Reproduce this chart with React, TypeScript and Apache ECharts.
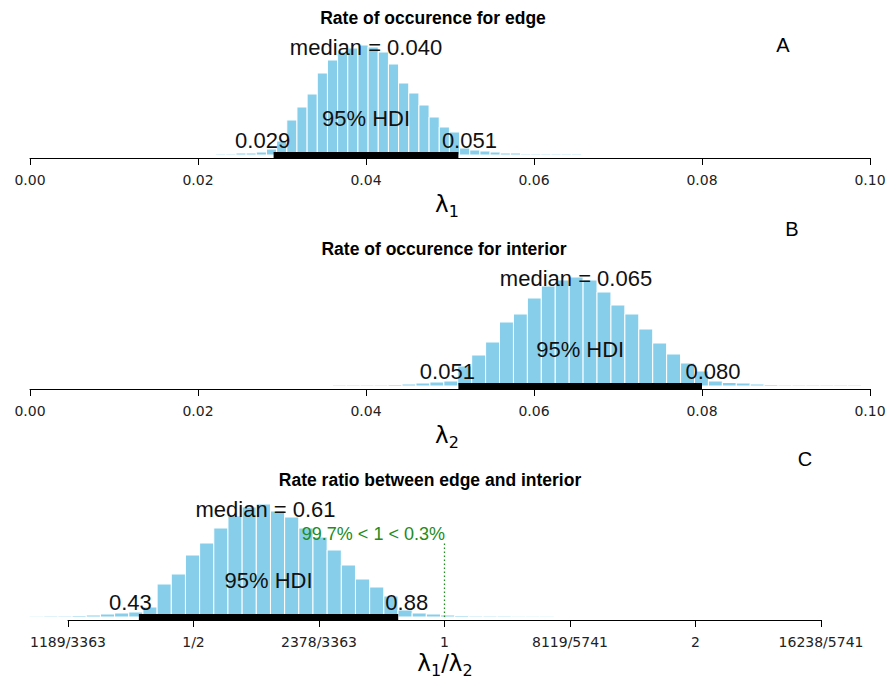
import React, { useEffect, useRef } from "react";
import * as echarts from "echarts";

// Posterior of the edge rate (λ1): histogram bins and summary
const edgeBinStart = 0.0221;
const edgeBinWidth = 0.00121;
const edgeCounts = [
  1, 1, 2, 2, 3, 6, 14,
  35, 48, 61, 82, 95, 103, 107, 110, 108, 103, 91, 72, 62, 50, 38, 28, 23,
  7, 5, 4, 3, 2, 2, 1, 1, 1, 1, 1, 1,
];
const edgeMedian = 0.04;
const edgeHdi = [0.029, 0.051];

// Posterior of the interior rate (λ2)
const interiorBinStart = 0.036;
const interiorBinWidth = 0.001658;
const interiorCounts = [
  1, 1, 1, 1, 1.5, 2, 3, 4, 5,
  20, 31, 44, 64, 72, 88, 100, 106, 109, 106, 94, 81, 72, 57, 43, 32, 23, 15,
  5, 3.5, 3, 2, 1.5, 1, 1, 1, 1, 1, 1,
];
const interiorMedian = 0.065;
const interiorHdi = [0.051, 0.08];

// Posterior of the ratio λ1/λ2, binned on a log2 scale
const ratioBinStart = -1.653;
const ratioBinWidth = 0.05645;
const ratioCounts = [
  0.8, 1, 1, 1.5, 2, 3, 4, 5, 10,
  33, 43, 62, 74, 89, 101, 110, 113, 106, 100, 89, 80, 67, 52, 38, 30, 21,
  7, 4, 3, 2, 1.5, 1, 1, 1, 0.8, 0.8, 0.8,
];
const ratioMedian = 0.61;
const ratioHdi = [0.43, 0.88];
const ratioCompare = 1;
const ratioPctBelow = 99.7;
const ratioPctAbove = 0.3;

// Axis ticks
const rateTickValues = [0, 0.02, 0.04, 0.06, 0.08, 0.1];
const ratioTickLog2 = [-1.5, -1, -0.5, 0, 0.5, 1, 1.5];
const ratioTickLabels = ["1189/3363", "1/2", "2378/3363", "1", "8119/5741", "2", "16238/5741"];

const panelTitles = [
  "Rate of occurence for edge",
  "Rate of occurence for interior",
  "Rate ratio between edge and interior",
];
const panelLetters = ["A", "B", "C"];

const BAR = "#87CEEB";
const INK = "#111111";
const GREEN = "#228B22";
const SANS = '"Liberation Sans", Arial, sans-serif';
const TICK_FONT = '"DejaVu Sans", sans-serif';
const MATH_FONT = '"DejaVu Sans", sans-serif';

let measureCtx: CanvasRenderingContext2D | null = null;
function textWidth(text: string, size: number, family = SANS): number {
  if (!measureCtx) measureCtx = document.createElement("canvas").getContext("2d");
  if (!measureCtx) return text.length * size * 0.55;
  measureCtx.font = `${size}px ${family}`;
  return measureCtx.measureText(text).width;
}

function histogram(start: number, width: number, counts: number[]) {
  return counts.map((c, i) => [start + i * width, start + (i + 1) * width, c]);
}

type Label = { x: number; y: number; text: string; frac: number; size: number; color: string };

// plot-region geometry per panel (pixel layout)
const GRID_LEFT_RATE = 30;
const GRID_RIGHT_RATE = 891 - 870;
const GRID_LEFT_RATIO = 68;
const GRID_RIGHT_RATIO = 891 - 821;
const Y_MIN = -3;
const Y_MAX = 115;
const GRID_H = Y_MAX - Y_MIN;
const AXIS_Y = [158, 389, 620];

const MEDIAN_Y = 108;
const HDI_TEXT_Y = 37;
const HDI_VAL_Y = 15;

function panelLabels(median: number, medianText: string, hdi: number[], hdiTexts: string[], tx: (v: number) => number): Label[] {
  return [
    { x: tx(median), y: MEDIAN_Y, text: `median = ${medianText}`, frac: 0.5, size: 22, color: INK },
    { x: (tx(hdi[0]) + tx(hdi[1])) / 2, y: HDI_TEXT_Y, text: "95% HDI", frac: 0.5, size: 22, color: INK },
    { x: tx(hdi[0]), y: HDI_VAL_Y, text: hdiTexts[0], frac: 0.7, size: 22, color: INK },
    { x: tx(hdi[1]), y: HDI_VAL_Y, text: hdiTexts[1], frac: 0.3, size: 22, color: INK },
  ];
}

// a run of math pieces (normal / subscript) laid out left to right, centred on cx
type Piece = { text: string; sub?: boolean };
function mathLabel(pieces: Piece[], cx: number, baseline: number): any[] {
  const big = 23;
  const small = 16;
  const widths = pieces.map((p) => textWidth(p.text, p.sub ? small : big, MATH_FONT));
  const total = widths.reduce((a, b) => a + b, 0);
  let x = cx - total / 2;
  return pieces.map((p, i) => {
    const size = p.sub ? small : big;
    const el = {
      type: "text",
      x,
      y: baseline + (p.sub ? 6 : 0) + size * 0.236,
      style: { text: p.text, fill: "#000", fontSize: size, fontFamily: MATH_FONT, align: "left", verticalAlign: "bottom" },
    };
    x += widths[i];
    return el;
  });
}

export default function App() {
  const ref = useRef<HTMLDivElement>(null);

  useEffect(() => {
    if (!ref.current) return;
    const chart = echarts.init(ref.current, null, { renderer: "svg" });
    const id = (v: number) => v;
    const log2 = (v: number) => Math.log2(v);

    const histData = [
      histogram(edgeBinStart, edgeBinWidth, edgeCounts),
      histogram(interiorBinStart, interiorBinWidth, interiorCounts),
      histogram(ratioBinStart, ratioBinWidth, ratioCounts),
    ];
    const hdiLines = [
      [edgeHdi[0], edgeHdi[1]],
      [interiorHdi[0], interiorHdi[1]],
      [log2(ratioHdi[0]), log2(ratioHdi[1])],
    ];
    const labels: Label[][] = [
      panelLabels(edgeMedian, edgeMedian.toFixed(3), edgeHdi, edgeHdi.map((v) => v.toFixed(3)), id),
      panelLabels(interiorMedian, interiorMedian.toFixed(3), interiorHdi, interiorHdi.map((v) => v.toFixed(3)), id),
      panelLabels(ratioMedian, ratioMedian.toFixed(2), ratioHdi, ratioHdi.map((v) => v.toFixed(2)), log2),
    ];
    const compareTop = 74;
    labels[2].push({
      x: log2(ratioCompare),
      y: 83,
      text: `${ratioPctBelow}% < ${ratioCompare} < ${ratioPctAbove}%`,
      frac: ratioPctBelow / 100,
      size: 18,
      color: GREEN,
    });

    const grids = AXIS_Y.map((ay, i) => ({
      left: i < 2 ? GRID_LEFT_RATE : GRID_LEFT_RATIO,
      right: i < 2 ? GRID_RIGHT_RATE : GRID_RIGHT_RATIO,
      top: ay - GRID_H,
      height: GRID_H,
    }));

    const axisCommon = {
      type: "value" as const,
      axisLine: { show: true, onZero: false, lineStyle: { color: "#000", width: 1 } },
      axisTick: { show: true, length: 7, lineStyle: { color: "#000", width: 1 } },
      splitLine: { show: false },
    };
    const tickLabelStyle = { margin: 15, fontSize: 14, fontFamily: TICK_FONT, color: "#222", interval: 0 };
    const xAxes = [0, 1, 2].map((i) => {
      if (i < 2) {
        return {
          ...axisCommon,
          gridIndex: i,
          min: rateTickValues[0],
          max: rateTickValues[rateTickValues.length - 1],
          interval: rateTickValues[1] - rateTickValues[0],
          axisLabel: { ...tickLabelStyle, formatter: (v: number) => v.toFixed(2) },
        };
      }
      return {
        ...axisCommon,
        gridIndex: i,
        min: ratioTickLog2[0],
        max: ratioTickLog2[ratioTickLog2.length - 1],
        interval: ratioTickLog2[1] - ratioTickLog2[0],
        axisLabel: {
          ...tickLabelStyle,
          formatter: (v: number) => {
            const k = ratioTickLog2.findIndex((t) => Math.abs(t - v) < 1e-9);
            return k >= 0 ? ratioTickLabels[k] : "";
          },
        },
      };
    });
    const yAxes = [0, 1, 2].map((i) => ({ type: "value" as const, gridIndex: i, min: Y_MIN, max: Y_MAX, show: false }));

    const series: any[] = [];
    [0, 1, 2].forEach((i) => {
      series.push({
        type: "custom",
        xAxisIndex: i,
        yAxisIndex: i,
        silent: true,
        data: histData[i],
        encode: { x: [0, 1], y: 2 },
        renderItem: (_p: any, api: any) => {
          const tl = api.coord([api.value(0), api.value(2)]);
          const br = api.coord([api.value(1), 0]);
          return {
            type: "rect",
            shape: { x: tl[0], y: tl[1], width: br[0] - tl[0], height: br[1] - tl[1] },
            style: { fill: BAR, stroke: "#ffffff", lineWidth: 1 },
          };
        },
      });
      series.push({
        type: "line",
        xAxisIndex: i,
        yAxisIndex: i,
        silent: true,
        symbol: "none",
        clip: false,
        data: [
          [hdiLines[i][0], 0],
          [hdiLines[i][1], 0],
        ],
        lineStyle: { color: "#000", width: 6, cap: "butt" },
        z: 3,
      });
    });

    // comparison value marker on the ratio panel
    series.push({
      type: "line",
      xAxisIndex: 2,
      yAxisIndex: 2,
      silent: true,
      symbol: "none",
      data: [
        [log2(ratioCompare), 0],
        [log2(ratioCompare), compareTop],
      ],
      lineStyle: { color: GREEN, width: 1.3, type: [1.5, 2.5] },
      z: 3,
    });

    [0, 1, 2].forEach((i) => {
      const specs = labels[i];
      series.push({
        type: "custom",
        xAxisIndex: i,
        yAxisIndex: i,
        silent: true,
        z: 4,
        data: specs.map((s) => [s.x, s.y]),
        encode: { x: 0, y: 1 },
        renderItem: (p: any, api: any) => {
          const s = specs[p.dataIndex];
          const pt = api.coord([api.value(0), api.value(1)]);
          const w = textWidth(s.text, s.size);
          return {
            type: "text",
            x: pt[0] - s.frac * w,
            y: pt[1],
            style: {
              text: s.text,
              fill: s.color,
              fontSize: s.size,
              fontFamily: SANS,
              align: "left",
              verticalAlign: "middle",
            },
          };
        },
      });
    });

    const titleCenters = [433, 444, 430];
    const letterPos = [
      [783, 45],
      [792, 229],
      [805, 459],
    ];
    const graphics: any[] = [];
    panelTitles.forEach((t, i) => {
      graphics.push({
        type: "text",
        x: titleCenters[i],
        y: AXIS_Y[i] - 3 - 137.5,
        style: { text: t, fill: "#000", fontSize: 17.5, fontWeight: "bold", fontFamily: SANS, align: "center", verticalAlign: "middle" },
      });
      graphics.push({
        type: "text",
        x: letterPos[i][0],
        y: letterPos[i][1],
        style: { text: panelLetters[i], fill: "#000", fontSize: 20, fontFamily: SANS, align: "center", verticalAlign: "middle" },
      });
    });

    // axis titles with subscripts
    graphics.push(...mathLabel([{ text: "λ" }, { text: "1", sub: true }], 447, AXIS_Y[0] + 52));
    graphics.push(...mathLabel([{ text: "λ" }, { text: "2", sub: true }], 447, AXIS_Y[1] + 52));
    graphics.push(
      ...mathLabel(
        [{ text: "λ" }, { text: "1", sub: true }, { text: "/" }, { text: "λ" }, { text: "2", sub: true }],
        445,
        AXIS_Y[2] + 49
      )
    );

    chart.setOption({
      animation: false,
      backgroundColor: "#ffffff",
      grid: grids,
      xAxis: xAxes,
      yAxis: yAxes,
      series,
      graphic: graphics,
    });

    return () => chart.dispose();
  }, []);

  return (
    <div
      ref={ref}
      style={{ position: "fixed", left: 0, top: 0, width: 891, height: 683, background: "#fff" }}
    />
  );
}
